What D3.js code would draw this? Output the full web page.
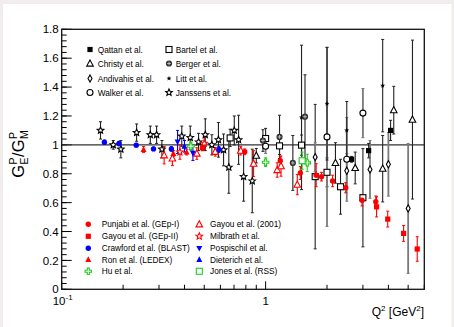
<!DOCTYPE html>
<html><head><meta charset="utf-8">
<script src="https://cdn.jsdelivr.net/npm/d3@7"></script>
<style>
body{margin:0;background:#f1eded}
svg{display:block}
text{font-family:"Liberation Sans",Arial,Helvetica,sans-serif}
</style></head>
<body><svg id="c" width="454" height="327"></svg>
<script>
// ---------------- data ----------------
const yTicks = [0, 0.2, 0.4, 0.6, 0.8, 1, 1.2, 1.4, 1.6, 1.8];
const yTickLabels = ["0", "0.2", "0.4", "0.6", "0.8", "1", "1.2", "1.4", "1.6", "1.8"];
const xMajor = [0.1, 1];
const xMinor = [0.2, 0.3, 0.4, 0.5, 0.6, 0.7, 0.8, 0.9, 2, 3, 4, 5, 6];

const qattanQ2 = [2.64, 3.20, 4.10];
const qattanR = [0.90, 0.96, 1.10];
const qattanErr = [0.02, 0.05, 0.07];

const christyQ2 = [0.90, 2.20, 2.75, 3.75, 4.25, 5.25];
const christyR = [0.925, 0.875, 0.84, 0.835, 1.24, 1.175];
const christyErr = [0.05, 0.14, 0.11, 0.23, 0.165, 0.55];

const andivahisQ2 = [1.75, 2.50, 3.25, 4.00, 5.00];
const andivahisR = [0.915, 0.82, 0.83, 0.865, 0.56];
const andivahisErr = [0.1, 0.12, 0.2, 0.22, 0.45];

const walkerQ2 = [1.0, 2.0, 2.5, 3.0];
const walkerR = [0.99, 1.055, 0.90, 1.22];
const walkerErr = [0.05, 0.62, 0.29, 0.17];

const bartelQ2 = [0.67, 1.0, 1.17, 1.5, 1.75, 2.0, 2.33, 3.0];
const bartelR = [1.048, 1.044, 0.993, 0.998, 0.78, 0.81, 0.71, 0.634];
const bartelErr = [0.06, 0.07, 0.06, 0.07, 0.5, 0.1, 0.19, 0.34];

const bergerQ2 = [0.97, 1.17, 1.36, 1.56];
const bergerR = [1.03, 1.055, 0.875, 1.195];
const bergerErr = [0.075, 0.15, 0.19, 0.29];

const littQ2 = [1.5, 2.0, 2.5, 3.75];
const littR = [1.19, 1.285, 1.10, 1.41];
const littErr = [0.5, 0.39, 0.2, 0.32];

const janssensQ2 = [0.155, 0.179, 0.195, 0.233, 0.272, 0.292, 0.310, 0.388, 0.427, 0.469, 0.506, 0.545, 0.587, 0.622, 0.660, 0.702, 0.737, 0.780, 0.860];
const janssensR = [1.10, 1.00, 0.97, 1.085, 1.07, 1.07, 0.97, 1.06, 1.05, 1.02, 1.07, 1.00, 1.035, 0.965, 0.845, 1.10, 1.035, 0.78, 0.75];
const janssensErr = [0.06, 0.03, 0.06, 0.06, 0.06, 0.06, 0.06, 0.07, 0.08, 0.06, 0.11, 0.07, 0.12, 0.11, 0.18, 0.10, 0.17, 0.17, 0.22];

const punjabiQ2 = [0.49, 0.79, 1.18, 1.48, 1.77, 1.88, 2.13, 2.47, 2.97, 3.47];
const punjabiR = [0.98, 0.952, 0.89, 0.805, 0.79, 0.78, 0.75, 0.703, 0.617, 0.606];
const punjabiErr = [0.02, 0.02, 0.03, 0.045, 0.08, 0.03, 0.04, 0.035, 0.04, 0.04];

const gayouIIQ2 = [3.5, 3.97, 4.75, 5.54];
const gayouIIR = [0.571, 0.486, 0.387, 0.279];
const gayouIIErr = [0.07, 0.055, 0.055, 0.085];

const crawfordQ2 = [0.162, 0.191, 0.232, 0.282, 0.345, 0.59];
const crawfordR = [1.018, 1.009, 0.998, 0.972, 0.972, 0.968];
const crawfordErr = [0.015, 0.015, 0.012, 0.012, 0.015, 0.02];

const ronQ2 = [0.252, 0.353, 0.41, 0.49];
const ronR = [0.968, 0.94, 0.95, 0.98];
const ronErr = [0.02, 0.02, 0.02, 0.02];

const huQ2 = [0.43, 1.0, 1.6];
const huR = [0.99, 0.88, 0.875];
const huErr = [0.03, 0.03, 0.06];

const gayou01Q2 = [0.318, 0.349, 0.46, 0.566, 0.755, 0.873, 1.14, 1.19, 1.43];
const gayou01R = [0.928, 0.906, 0.94, 0.952, 0.96, 0.87, 0.826, 0.853, 0.725];
const gayou01Err = [0.06, 0.05, 0.04, 0.03, 0.03, 0.09, 0.05, 0.07, 0.07];

const milbrathQ2 = [0.38, 0.50];
const milbrathR = [0.95, 1.01];
const milbrathErr = [0.05, 0.04];

const pospischilQ2 = [0.37, 0.44];
const pospischilR = [1.02, 0.942];
const pospischilErr = [0.08, 0.05];

const dieterichQ2 = [0.40];
const dieterichR = [0.99];
const dieterichErr = [0.04];

const jonesQ2 = [1.51];
const jonesR = [0.89];
const jonesErr = [0.06];

// ---------------- styles ----------------
const RED = "#ff0000", BLUE = "#0000ff", GREEN = "#22cc22";
const series = [
  {name:"Bartel et al.", q:bartelQ2, v:bartelR, e:bartelErr, sym:"osq", col:"#000", bar:"#222", bw:1.1},
  {name:"Walker et al.", q:walkerQ2, v:walkerR, e:walkerErr, sym:"ocirc", col:"#000", bar:"#7a7a7a", bw:1.8},
  {name:"Andivahis et al.", q:andivahisQ2, v:andivahisR, e:andivahisErr, sym:"odiam", col:"#000", bar:"#7a7a7a", bw:1.8},
  {name:"Litt et al.", q:littQ2, v:littR, e:littErr, sym:"sstar", col:"#000", bar:"#222", bw:1.1},
  {name:"Berger et al.", q:bergerQ2, v:bergerR, e:bergerErr, sym:"berger", col:"#000", bar:"#222", bw:1.1},
  {name:"Christy et al.", q:christyQ2, v:christyR, e:christyErr, sym:"otri", col:"#000", bar:"#222", bw:1.1},
  {name:"Qattan et al.", q:qattanQ2, v:qattanR, e:qattanErr, sym:"fsq", col:"#000", bar:"#222", bw:1.1},
  {name:"Janssens et al.", q:janssensQ2, v:janssensR, e:janssensErr, sym:"ostar", col:"#000", bar:"#222", bw:1.1},
  {name:"Gayou et al. (2001)", q:gayou01Q2, v:gayou01R, e:gayou01Err, sym:"otri", col:RED, bar:RED, bw:1.1},
  {name:"Milbrath et al.", q:milbrathQ2, v:milbrathR, e:milbrathErr, sym:"ostar", col:RED, bar:RED, bw:1.1},
  {name:"Punjabi et al. (GEp-I)", q:punjabiQ2, v:punjabiR, e:punjabiErr, sym:"fcirc", col:RED, bar:RED, bw:1.1},
  {name:"Gayou et al. (GEp-II)", q:gayouIIQ2, v:gayouIIR, e:gayouIIErr, sym:"fsq", col:RED, bar:RED, bw:1.1},
  {name:"Ron et al. (LEDEX)", q:ronQ2, v:ronR, e:ronErr, sym:"ftri", col:RED, bar:RED, bw:1.1},
  {name:"Pospischil et al.", q:pospischilQ2, v:pospischilR, e:pospischilErr, sym:"ftrid", col:BLUE, bar:BLUE, bw:1.1},
  {name:"Dieterich et al.", q:dieterichQ2, v:dieterichR, e:dieterichErr, sym:"ftri", col:BLUE, bar:BLUE, bw:1.1},
  {name:"Crawford et al. (BLAST)", q:crawfordQ2, v:crawfordR, e:crawfordErr, sym:"fcirc", col:BLUE, bar:BLUE, bw:1.1},
  {name:"Hu et al.", q:huQ2, v:huR, e:huErr, sym:"ocross", col:GREEN, bar:GREEN, bw:1.1},
  {name:"Jones et al. (RSS)", q:jonesQ2, v:jonesR, e:jonesErr, sym:"osq", col:GREEN, bar:GREEN, bw:1.1}
];
const byName = n => series.find(s => s.name === n);
const legendTop = [["Qattan et al.","Christy et al.","Andivahis et al.","Walker et al."],
                   ["Bartel et al.","Berger et al.","Litt et al.","Janssens et al."]];
const legendBottom = [["Punjabi et al. (GEp-I)","Gayou et al. (GEp-II)","Crawford et al. (BLAST)","Ron et al. (LEDEX)","Hu et al."],
                      ["Gayou et al. (2001)","Milbrath et al.","Pospischil et al.","Dieterich et al.","Jones et al. (RSS)"]];

// ---------------- drawing ----------------
const svg = d3.select("#c");
svg.append("rect").attr("x",3).attr("y",4).attr("width",448.5).attr("height",323).attr("fill","#fff");

const L = 61.7, R = 424.3, T = 29.3, B = 289.3;
const x = d3.scaleLog().domain([0.1, 6.0]).range([L, R]);
const y = d3.scaleLinear().domain([0, 1.8]).range([B, T]);

svg.append("defs").append("clipPath").attr("id","clip")
  .append("rect").attr("x",L).attr("y",T).attr("width",R-L).attr("height",B-T);

// y ticks
const yMinor = d3.range(0, 1.8001, 0.04);
svg.append("g").selectAll("line").data(yMinor).join("line")
  .attr("x1",L).attr("x2",L+5).attr("y1",d=>y(d)).attr("y2",d=>y(d))
  .attr("stroke","#000").attr("stroke-width",1);
svg.append("g").selectAll("line").data(yTicks).join("line")
  .attr("x1",L).attr("x2",L+10).attr("y1",d=>y(d)).attr("y2",d=>y(d))
  .attr("stroke","#000").attr("stroke-width",1);
svg.append("g").selectAll("text").data(yTicks).join("text")
  .attr("x",L-3).attr("y",d=>y(d)).attr("dy","0.36em").attr("text-anchor","end")
  .attr("font-size",11.5).text((d,i)=>yTickLabels[i]);

// x ticks
svg.append("g").selectAll("line").data(xMinor).join("line")
  .attr("x1",d=>x(d)).attr("x2",d=>x(d)).attr("y1",B).attr("y2",B-4.5)
  .attr("stroke","#000").attr("stroke-width",1);
svg.append("g").selectAll("line").data(xMajor).join("line")
  .attr("x1",d=>x(d)).attr("x2",d=>x(d)).attr("y1",B).attr("y2",B-8)
  .attr("stroke","#000").attr("stroke-width",1);
// x labels
const lab1 = svg.append("text").attr("y",305).attr("font-size",11.5);
lab1.append("tspan").text("10");
lab1.append("tspan").attr("font-size",8).attr("dy",-5).text("-1");
lab1.attr("x", x(0.1)-9);
svg.append("text").attr("x",x(1)).attr("y",305).attr("text-anchor","middle").attr("font-size",11.5).text("1");

// x title
const xt = svg.append("text").attr("x",424).attr("y",316).attr("text-anchor","end").attr("font-size",12);
xt.append("tspan").text("Q");
xt.append("tspan").attr("font-size",8).attr("dy",-5).text("2");
xt.append("tspan").attr("dy",5).text(" [GeV");
xt.append("tspan").attr("font-size",8).attr("dy",-5).text("2");
xt.append("tspan").attr("dy",5).text("]");

// y title with stacked sub/superscripts
const yt = svg.append("g");
let cx = 0;
const big = 16.5, small = 10.5;
function piece(txt, fs, dy){
  const t = yt.append("text").attr("x",cx).attr("y",dy).attr("font-size",fs).text(txt);
  return t.node().getComputedTextLength();
}
let w = piece("G", big, 0); cx += w + 0.5;
let w1 = piece("P", small, -7), w2 = piece("E", small, 4); cx += Math.max(w1,w2) + 0.5;
w = piece("/", big, 0); cx += w;
w = piece("G", big, 0); cx += w + 0.5;
w1 = piece("P", small, -7); w2 = piece("M", small, 4); cx += Math.max(w1,w2);
yt.attr("transform",`translate(24,${154 + cx/2}) rotate(-90)`);

// y = 1 line
svg.append("line").attr("x1",L).attr("x2",R).attr("y1",y(1)).attr("y2",y(1))
  .attr("stroke","#333").attr("stroke-width",1.2);

// markers
function starPath(ro, ri){
  let p = "";
  for (let k=0;k<10;k++){
    const r = k%2===0 ? ro : ri;
    const a = -Math.PI/2 + k*Math.PI/5;
    p += (k===0?"M":"L") + (r*Math.cos(a)).toFixed(2) + "," + (r*Math.sin(a)).toFixed(2);
  }
  return p + "Z";
}
function drawMarker(g, sym, px, py, col){
  const t = `translate(${px},${py})`;
  switch(sym){
    case "fsq": g.append("rect").attr("x",px-2.6).attr("y",py-2.6).attr("width",5.2).attr("height",5.2).attr("fill",col); break;
    case "osq": g.append("rect").attr("x",px-3).attr("y",py-3).attr("width",6).attr("height",6).attr("fill","#fff").attr("stroke",col).attr("stroke-width",1.1); break;
    case "fcirc": g.append("circle").attr("cx",px).attr("cy",py).attr("r",2.7).attr("fill",col); break;
    case "ocirc": g.append("circle").attr("cx",px).attr("cy",py).attr("r",3).attr("fill","#fff").attr("stroke",col).attr("stroke-width",1.1); break;
    case "otri": g.append("path").attr("transform",t).attr("d","M0,-3.6L3.3,2.6L-3.3,2.6Z").attr("fill","#fff").attr("stroke",col).attr("stroke-width",1.1); break;
    case "ftri": g.append("path").attr("transform",t).attr("d","M0,-3.2L3,2.4L-3,2.4Z").attr("fill",col); break;
    case "ftrid": g.append("path").attr("transform",t).attr("d","M0,3.2L3,-2.4L-3,-2.4Z").attr("fill",col); break;
    case "odiam": g.append("path").attr("transform",t).attr("d","M0,-3.6L2,0L0,3.6L-2,0Z").attr("fill","#fff").attr("stroke",col).attr("stroke-width",1.1); break;
    case "ostar": g.append("path").attr("transform",t).attr("d",starPath(3.5,1.6)).attr("fill","#fff").attr("stroke",col).attr("stroke-width",1.1); break;
    case "sstar": g.append("path").attr("transform",t).attr("d",starPath(2.6,1.1)).attr("fill",col); break;
    case "berger":
      g.append("circle").attr("cx",px).attr("cy",py).attr("r",3.1).attr("fill","#333");
      g.append("path").attr("transform",t).attr("d","M-1.8,0H1.8M0,-1.8V1.8").attr("stroke","#bbb").attr("stroke-width",1);
      break;
    case "ocross": g.append("path").attr("transform",t)
      .attr("d","M-1,-3.2H1V-1H3.2V1H1V3.2H-1V1H-3.2V-1H-1Z").attr("fill","#fff").attr("stroke",col).attr("stroke-width",1.1); break;
  }
}

const plot = svg.append("g").attr("clip-path","url(#clip)");
const bars = plot.append("g"), marks = plot.append("g");
series.forEach(s => {
  s.q.forEach((q,i) => {
    const px = x(q), y1 = y(s.v[i]-s.e[i]), y2 = y(s.v[i]+s.e[i]);
    bars.append("line").attr("x1",px).attr("x2",px).attr("y1",y1).attr("y2",y2)
      .attr("stroke",s.bar).attr("stroke-width",s.bw);
    [y1,y2].forEach(yy => bars.append("line").attr("x1",px-1.5).attr("x2",px+1.5).attr("y1",yy).attr("y2",yy)
      .attr("stroke",s.bar).attr("stroke-width",1));
  });
});
series.forEach(s => s.q.forEach((q,i) => drawMarker(marks, s.sym, x(q), y(s.v[i]), s.col)));

// frame
svg.append("rect").attr("x",L).attr("y",T).attr("width",R-L).attr("height",B-T)
  .attr("fill","none").attr("stroke","#111").attr("stroke-width",1.3);

// legends
const lg = svg.append("g");
const topCols = [{mx:90, tx:97.7},{mx:169, tx:175.7}], topRows = [49.5, 63.5, 78.5, 92.5];
legendTop.forEach((col,ci) => col.forEach((n,ri) => {
  const s = byName(n);
  drawMarker(lg, s.sym, topCols[ci].mx, topRows[ri], s.col);
  lg.append("text").attr("x",topCols[ci].tx).attr("y",topRows[ri]+3).attr("font-size",8.3).text(n);
}));
const botCols = [{mx:88.3, tx:101.7},{mx:199.3, tx:210}], botRows = [224.3, 236.3, 248.3, 259.5, 271.3];
legendBottom.forEach((col,ci) => col.forEach((n,ri) => {
  const s = byName(n);
  drawMarker(lg, s.sym, botCols[ci].mx, botRows[ri], s.col);
  lg.append("text").attr("x",botCols[ci].tx).attr("y",botRows[ri]+3).attr("font-size",8.3).text(n);
}));
</script></body></html>
